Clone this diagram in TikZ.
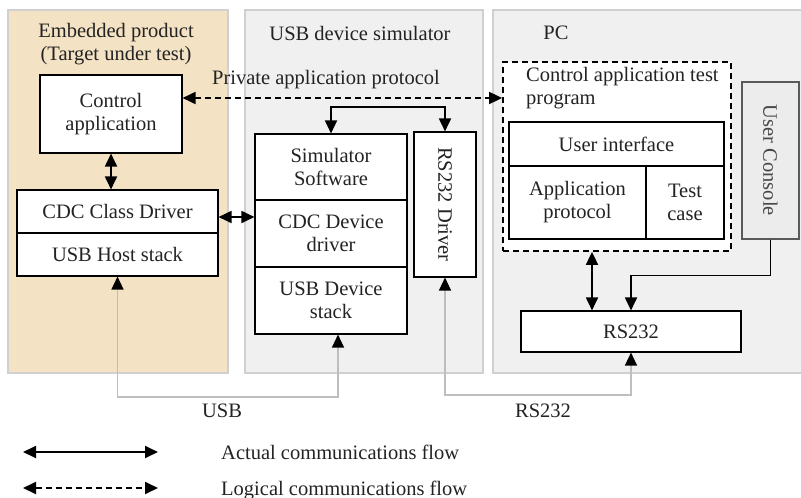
\documentclass[tikz,border=0pt]{standalone}
\usepackage{fontspec}
\setmainfont{Liberation Serif}
\usetikzlibrary{arrows.meta, positioning}
\definecolor{tanfill}{RGB}{244,226,196}
\definecolor{panelfill}{RGB}{240,240,240}
\definecolor{panelrim}{RGB}{208,208,208}
\definecolor{wire}{RGB}{190,190,190}
\definecolor{ink}{RGB}{35,35,35}
\tikzset{
  >={Triangle[length=13pt,width=12pt]},
  bk/.tip={Triangle[length=13pt,width=12pt,color=black]},
  panel/.style={draw=panelrim, line width=1.2pt},
  box/.style={draw, line width=1.1pt, fill=white, text=ink, align=center, inner sep=1pt},
  actual/.style={line width=1.8pt, <->},
  logical/.style={line width=1.8pt, dash pattern=on 6pt off 4pt, <->},
  serial/.style={draw=wire, line width=1.3pt, bk-bk}
}

\begin{document}
\begin{tikzpicture}[x=1pt, y=-1pt, every node/.append style={font=\fontsize{20.5}{23}\selectfont, text=ink}]
  \useasboundingbox (0,0) rectangle (801,498);
  % panels
  \draw[panel, fill=tanfill] (8,10) rectangle (228,373);
  \draw[panel, fill=panelfill] (245,10) rectangle (483,373);
  \draw[panel, fill=panelfill] (493,10) rectangle (806,373);
  \node[align=center] (ttlemb) at (116,44) {Embedded product\\(Target under test)};
  \node (ttlusb) at (360,33) {USB device simulator};
  \node (ttlpc) at (556,33) {PC};
  % embedded product
  \node[box, minimum width=142pt, minimum height=78pt] (ctrl) at (111,114) {Control\\application};
  \node[box, minimum width=201pt, minimum height=43pt] (cdc) at (117.5,211.5) {CDC Class Driver};
  \node[box, minimum width=201pt, minimum height=43pt] (host) at (117.5,254.5) {USB Host stack};
  \draw[actual] (ctrl.south) -- (ctrl.south |- cdc.north);
  % USB device simulator
  \node[box, minimum width=152pt, minimum height=66pt] (sim) at (331,167) {Simulator\\Software};
  \node[box, minimum width=152pt, minimum height=67pt] (cdcdev) at (331,233.5) {CDC Device\\driver};
  \node[box, minimum width=152pt, minimum height=67pt] (usbdev) at (331,300.5) {USB Device\\stack};
  \node[box, rotate=-90, minimum width=145pt, minimum height=62pt] (rsdrv) at (445,204.5) {RS232 Driver};
  \coordinate (bus) at (388,107);
  \draw[actual] (sim.north) |- (bus) -| (rsdrv.west);
  \draw[actual] ([yshift=-5.5pt]cdc.east) -- ([yshift=-5.5pt]cdc.east -| cdcdev.west);
  % PC
  \node[draw, line width=1.8pt, dash pattern=on 6pt off 4pt, fill=white, minimum width=228pt, minimum height=189pt] (testprog) at (617,156.5) {};
  \node[align=left, anchor=west, inner sep=0pt] (testttl) at (526,88) {Control application test\\program};
  \node[box, minimum width=215pt, minimum height=44pt] (ui) at (616.5,144) {User interface};
  \node[box, minimum width=137pt, minimum height=73pt] (appproto) at (577.5,202.5) {Application\\protocol};
  \node[box, minimum width=78pt, minimum height=73pt] (testcase) at (685,202.5) {Test\\case};
  \node[box, rotate=-90, draw={rgb,255:red,90;green,90;blue,90}, fill={rgb,255:red,236;green,236;blue,236}, text={rgb,255:red,70;green,70;blue,70}, minimum width=157pt, minimum height=57pt] (uc) at (770.5,160.5) {User Console};
  \node[box, minimum width=220pt, minimum height=41pt] (rs) at (631,331.5) {RS232};
  \draw[logical] ([yshift=16pt]ctrl.east) -- ([yshift=16pt]ctrl.east -| testprog.west);
  \node (proto) at (326,80) {Private application protocol};
  \draw[actual] ([xshift=-25pt]testprog.south) -- ([xshift=-39pt]rs.north);
  \draw[line width=1.8pt, ->] (uc.east) -- ++(0,36) -| (rs.north);
  % cables
  \coordinate (usbwire) at (228,397);
  \coordinate (rswire) at (540,395);
  \draw[serial] (host.south) |- (usbwire) -| ([xshift=7pt]usbdev.south);
  \draw[serial] (rsdrv.east) |- (rswire) -| (rs.south);
  \node (usblbl) at (222,411) {USB};
  \node (rslbl) at (543,411) {RS232};
  % legend
  \coordinate (la) at (23,452); \coordinate (lb) at (158,452);
  \coordinate (lc) at (23,488); \coordinate (ld) at (158,488);
  \draw[actual] (la) -- (lb);
  \draw[logical] (lc) -- (ld);
  \node[anchor=west, inner sep=0pt] (actlbl) at (221,452) {Actual communications flow};
  \node[anchor=west, inner sep=0pt] (loglbl) at (221,490) {Logical communications flow};
\end{tikzpicture}
\end{document}
